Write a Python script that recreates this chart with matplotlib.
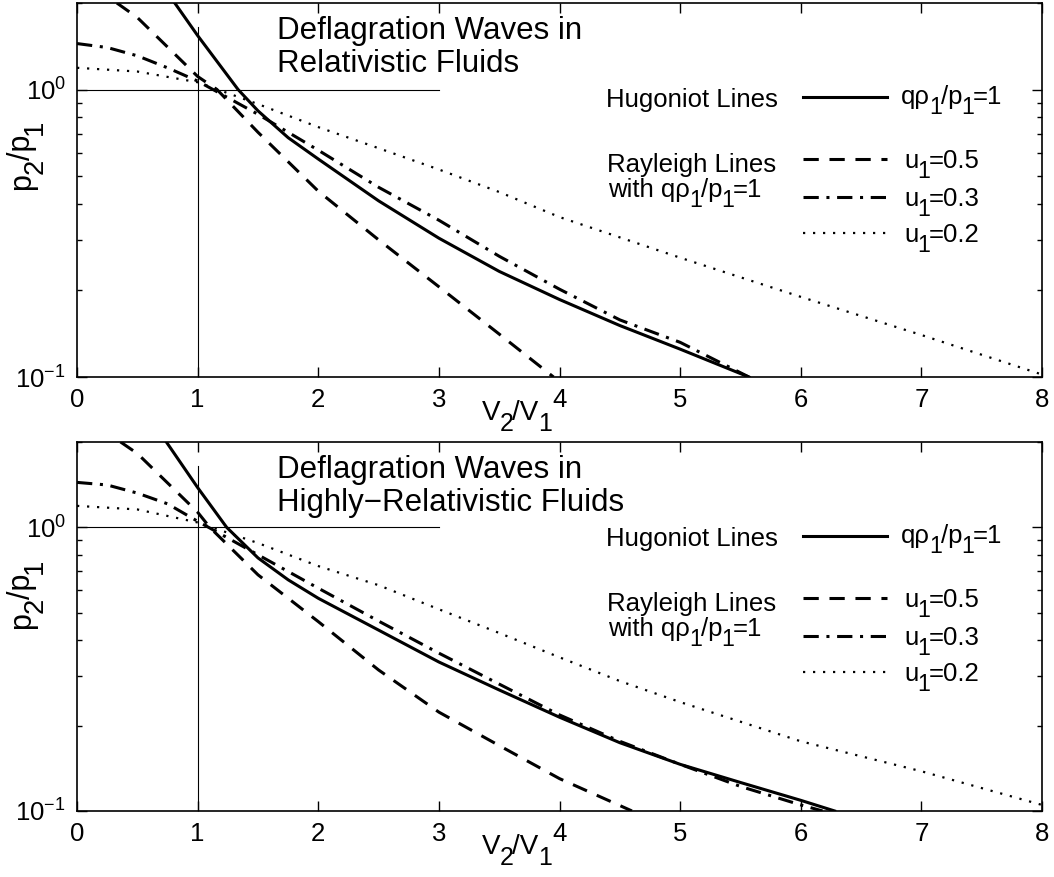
import numpy as np
import matplotlib
matplotlib.use('Agg')
import matplotlib.pyplot as plt
from matplotlib.ticker import NullFormatter, LogLocator
from matplotlib.transforms import Affine2D, ScaledTranslation

plt.rcParams['font.family'] = ['Liberation Sans', 'DejaVu Sans']
plt.rcParams['mathtext.fontset'] = 'custom'
plt.rcParams['mathtext.rm'] = 'Liberation Sans'
plt.rcParams['mathtext.it'] = 'Liberation Sans:italic'
plt.rcParams['mathtext.bf'] = 'Liberation Sans:bold'

# relativistic fluid: Hugoniot line and Rayleigh lines (u1 = 0.5, 0.3, 0.2)
rel_hug_x = [0.81, 1.0, 1.2, 1.335, 1.5, 1.75, 2.0, 2.5, 3.0, 3.5, 4.0, 4.5, 5.0, 5.57]
rel_hug_y = [2.0, 1.54, 1.19, 1.0, 0.843, 0.68, 0.573, 0.41, 0.304, 0.233, 0.186, 0.151, 0.125, 0.1]
rel_u5_x = [0.33, 0.5, 1.0, 1.16, 1.5, 2.0, 2.5, 3.0, 3.5, 3.95]
rel_u5_y = [2.0, 1.78, 1.11, 1.0, 0.71, 0.443, 0.30, 0.206, 0.141, 0.1]
rel_u3_x = [0.0, 0.25, 0.5, 0.75, 1.0, 1.5, 2.0, 2.5, 3.0, 3.5, 4.0, 4.5, 5.0, 5.57]
rel_u3_y = [1.445, 1.40, 1.31, 1.19, 1.07, 0.82, 0.615, 0.457, 0.351, 0.263, 0.202, 0.158, 0.132, 0.1]
rel_u2_x = [0.0, 0.5, 1.0, 1.5, 2.0, 2.5, 3.0, 3.5, 4.0, 5.0, 6.0, 7.0, 8.0]
rel_u2_y = [1.19, 1.155, 1.06, 0.89, 0.74, 0.625, 0.527, 0.44, 0.36, 0.26, 0.19, 0.14, 0.102]

# highly-relativistic fluid
hr_hug_x = [0.74, 1.0, 1.24, 1.5, 1.75, 2.0, 2.5, 3.0, 3.5, 4.0, 4.5, 5.0, 5.5, 6.0, 6.28]
hr_hug_y = [2.0, 1.38, 1.0, 0.78, 0.653, 0.562, 0.434, 0.335, 0.267, 0.214, 0.174, 0.146, 0.126, 0.109, 0.1]
hr_u5_x = [0.36, 0.5, 1.0, 1.1, 1.5, 2.0, 2.5, 3.0, 3.5, 4.0, 4.6]
hr_u5_y = [2.0, 1.82, 1.13, 1.0, 0.68, 0.465, 0.314, 0.223, 0.17, 0.13, 0.1]
hr_u3_x = [0.0, 0.25, 0.5, 0.75, 1.0, 1.5, 2.0, 2.5, 3.0, 3.5, 4.0, 4.5, 5.0, 5.5, 6.0, 6.18]
hr_u3_y = [1.44, 1.41, 1.32, 1.21, 1.05, 0.80, 0.61, 0.467, 0.36, 0.28, 0.218, 0.176, 0.146, 0.122, 0.105, 0.1]
hr_u2_x = [0.0, 0.5, 1.0, 1.5, 2.0, 2.5, 3.0, 3.5, 4.0, 4.5, 5.0, 6.0, 7.0, 8.0]
hr_u2_y = [1.19, 1.156, 1.04, 0.88, 0.73, 0.625, 0.514, 0.424, 0.348, 0.287, 0.242, 0.176, 0.138, 0.105]

# text pieces: (string, is_subscript)
q_parts = [('q\u03c1', 0), ('1', 1), ('/p', 0), ('1', 1), ('=1', 0)]
u_parts = [[('u', 0), ('1', 1), ('=0.5', 0)],
           [('u', 0), ('1', 1), ('=0.3', 0)],
           [('u', 0), ('1', 1), ('=0.2', 0)]]
xlab_parts = [('V', 0), ('2', 1), ('/V', 0), ('1', 1)]
ylab_parts = [('p', 0), ('2', 1), ('/p', 0), ('1', 1)]

fs_tick = 18.5
fs_key = 18.5
fs_title = 22.5
fs_xlab = 20
fs_ylab = 22
lw = 2.2
styles = {
    'hug': dict(color='k', lw=lw, ls='-'),
    'u5': dict(color='k', lw=lw, ls=(0, (5, 3.5))),
    'u3': dict(color='k', lw=lw, ls=(0, (5, 2.5, 1, 2.5))),
    'u2': dict(color='k', lw=1.6, ls=(0, (1, 3.5))),
}

fig = plt.figure(figsize=(10.54, 8.77), dpi=100)
renderer = fig.canvas.get_renderer()


def rich(ax, tr, x, y, parts, size, rot=0):
    # lay out text pieces one after another, subscripts dropped below the baseline
    adv = 0
    for s, sub in parts:
        shift = 0.4 * size * 100 / 72 if sub else 0
        fsz = 0.9 * size if sub else size
        if rot == 0:
            px, py = x + adv, y + shift
        else:
            px, py = x + shift, y - adv
        t = ax.text(px, py, s, transform=tr, fontsize=fsz, rotation=rot,
                    rotation_mode='anchor', ha='left', va='baseline', clip_on=False)
        bb = t.get_window_extent(renderer)
        adv += (bb.width if rot == 0 else bb.height) - 1


def panel(ax, title, curves):
    ax.set_yscale('log')
    # reference lines at p2/p1 = 1 and V2/V1 = 1
    ax.plot([0, 3], [1, 1], color='k', lw=0.8)
    ax.plot([1, 1], [0.1, 1.65], color='k', lw=0.8)
    for key, (xs, ys) in curves.items():
        ax.plot(xs, ys, **styles[key])
    ax.set_xlim(0, 8)
    ax.set_ylim(0.1, 2)
    ax.set_xticks(range(9))
    ax.yaxis.set_major_locator(LogLocator(base=10))
    ax.yaxis.set_minor_locator(LogLocator(base=10, subs=np.arange(2, 10)))
    ax.yaxis.set_minor_formatter(NullFormatter())
    ax.tick_params(which='both', direction='in', top=True, right=True,
                   labelsize=fs_tick, width=1)
    ax.tick_params(which='major', length=7, pad=8)
    ax.tick_params(which='minor', length=3.5)
    for sp in ax.spines.values():
        sp.set_linewidth(1.2)

    # pixel offsets measured down/right from the top-left and bottom-left corners
    top = Affine2D().scale(1, -1) + ScaledTranslation(0, 1, ax.transAxes)
    bot = Affine2D().scale(1, -1) + ScaledTranslation(0, 0, ax.transAxes)

    rich(ax, bot, 405, 43, xlab_parts, fs_xlab)
    rich(ax, top, -47, 187, ylab_parts, fs_ylab, rot=90)

    ax.text(200, 36, title[0], transform=top, fontsize=fs_title)
    ax.text(200, 69, title[1], transform=top, fontsize=fs_title)

    # hand-made key
    ax.text(529, 104, 'Hugoniot Lines', transform=top, fontsize=fs_key)
    ax.plot([726, 810], [94, 94], transform=top, **styles['hug'])
    rich(ax, top, 824, 101, q_parts, fs_key)
    ax.text(530, 169, 'Rayleigh Lines', transform=top, fontsize=fs_key)
    rich(ax, top, 531, 194, [('with q\u03c1', 0)] + q_parts[1:], fs_key)
    for key, dy, parts in zip(['u5', 'u3', 'u2'], [156, 194, 230], u_parts):
        ax.plot([726, 810], [dy, dy], transform=top, **styles[key])
        rich(ax, top, 827, dy + 9, parts, fs_key)


ax1 = fig.add_axes([0.0731, 0.5701, 0.9156, 0.4265])
ax2 = fig.add_axes([0.0731, 0.0753, 0.9156, 0.4208])

panel(ax1, ['Deflagration Waves in', 'Relativistic Fluids'],
      {'hug': (rel_hug_x, rel_hug_y), 'u5': (rel_u5_x, rel_u5_y),
       'u3': (rel_u3_x, rel_u3_y), 'u2': (rel_u2_x, rel_u2_y)})
panel(ax2, ['Deflagration Waves in', 'Highly\u2212Relativistic Fluids'],
      {'hug': (hr_hug_x, hr_hug_y), 'u5': (hr_u5_x, hr_u5_y),
       'u3': (hr_u3_x, hr_u3_y), 'u2': (hr_u2_x, hr_u2_y)})

fig.savefig('out.png', dpi=100)
